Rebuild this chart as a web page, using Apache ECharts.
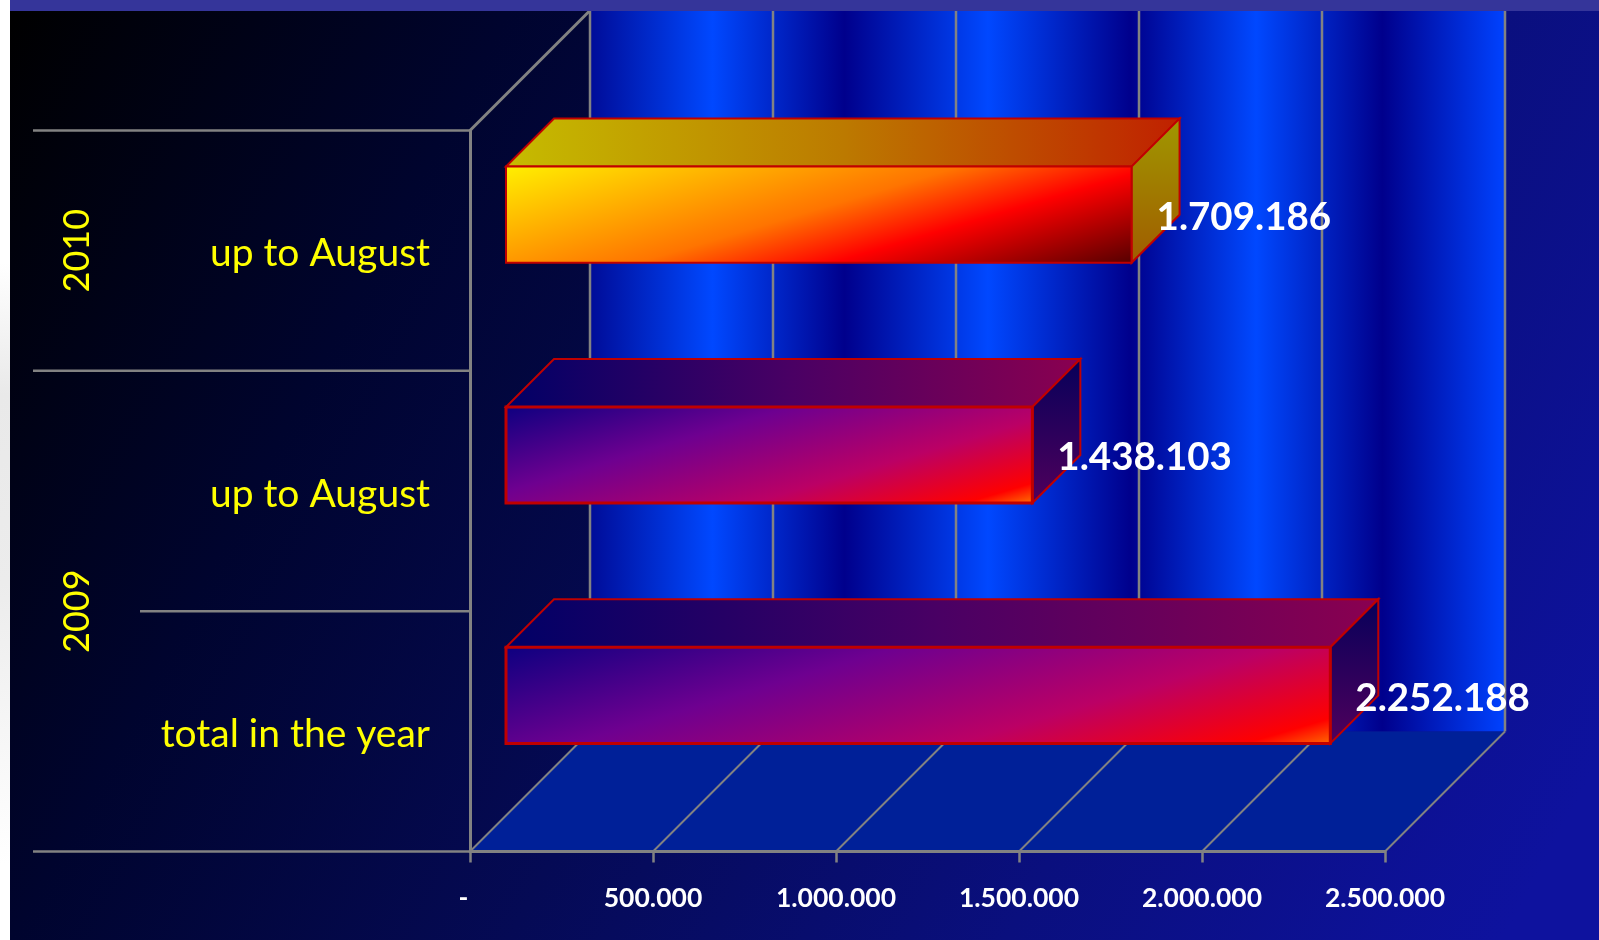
<!DOCTYPE html>
<html>
<head>
<meta charset="utf-8">
<title>Chart</title>
<style>
  html, body { margin: 0; padding: 0; background: linear-gradient(180deg, #ffffff 0%, #ffffff 28%, #e9e9e9 42%, #ececec 62%, #ffffff 92%); }
  #chart { width: 1599px; height: 940px; }
</style>
<script src="https://cdn.jsdelivr.net/npm/echarts@6/dist/echarts.min.js"></script>
</head>
<body>
<div id="chart"></div>
<script>
// chart data
var categories = ['up to August', 'up to August', 'total in the year']
var values = [1709186, 1438103, 2252188]
var valueLabels = ['1.709.186', '1.438.103', '2.252.188']
var groupLabels = ['2010', '2009']
var groupSizes = [1, 2] // how many categories each year spans
var ticks = [0, 500000, 1000000, 1500000, 2000000, 2500000]
var tickLabels = ['-  ', '500.000', '1.000.000', '1.500.000', '2.000.000', '2.500.000']

var LineGradient = echarts.graphic.LinearGradient
var GREY = '#828282'
var DEPTH = 120 // how far the back wall is pushed up and to the right
var BAR_SHIFT = 36
var BAR_DEPTH = 48
var FONT = 'Lato'

var wallStops = [
  { offset: 0, color: '#000c98' },
  { offset: 0.134, color: '#0048ff' },
  { offset: 0.278, color: '#00008c' },
  { offset: 0.435, color: '#0048ff' },
  { offset: 0.591, color: '#00008c' },
  { offset: 0.728, color: '#0048ff' },
  { offset: 0.866, color: '#00008c' },
  { offset: 1, color: '#0042ff' }
]
var fireFront = [
  { offset: 0, color: '#fff000' },
  { offset: 0.47, color: '#ff7400' },
  { offset: 0.67, color: '#ff0000' },
  { offset: 1, color: '#4a0000' }
]
var purpleFront = [
  { offset: 0, color: '#0c0080' },
  { offset: 0.33, color: '#6e0090' },
  { offset: 0.65, color: '#bb0065' },
  { offset: 0.89, color: '#ff0000' },
  { offset: 1, color: '#ffa000' }
]
var barStyles = [
  { front: fireFront, top: ['#c6bc00', '#bc7a00', '#c02000'], side: ['#a09800', '#a05c00'], border: 2 },
  { front: purpleFront, top: ['#000066', '#4a0064', '#8a0050'], side: ['#06005a', '#50005c'], border: 3 },
  { front: purpleFront, top: ['#000066', '#4a0064', '#8a0050'], side: ['#06005a', '#50005c'], border: 3 }
]

function stops(colors) {
  return colors.map(function(c, i) {
    return { offset: i / (colors.length - 1), color: c }
  })
}

function line(x1, y1, x2, y2, width) {
  return {
    type: 'line',
    shape: { x1: x1, y1: y1, x2: x2, y2: y2 },
    style: { stroke: GREY, lineWidth: width }
  }
}

// back wall, floor, their grid lines, the category dividers and year labels
function renderFrame(params, api) {
  var children = []
  var first = api.coord([ticks[0], 0])
  var bottom = api.coord([ticks[0], categories.length])
  var right = api.coord([ticks[ticks.length - 1], categories.length])

  children.push({
    type: 'rect',
    shape: { x: first[0] + DEPTH, y: first[1] - DEPTH, width: right[0] - first[0], height: right[1] - first[1] },
    style: { fill: new LineGradient(0, 0, 1, 0, wallStops) }
  })
  children.push({
    type: 'polygon',
    shape: { points: [bottom, right, [right[0] + DEPTH, right[1] - DEPTH], [bottom[0] + DEPTH, bottom[1] - DEPTH]] },
    style: { fill: '#002098' }
  })
  ticks.forEach(function(t) {
    var p = api.coord([t, categories.length])
    children.push(line(p[0], p[1], p[0] + DEPTH, p[1] - DEPTH, 2))
    children.push(line(p[0] + DEPTH, p[1] - DEPTH, p[0] + DEPTH, first[1] - DEPTH, 2.5))
  })
  children.push(line(first[0], first[1], first[0] + DEPTH, first[1] - DEPTH, 3))

  // dividers run across the year column, except inside a year that spans more rows
  var pos = 0
  var addDivider = function(band, long) {
    var p = api.coord([0, band])
    children.push(line(long ? 33 : 140, p[1], p[0], p[1], 2.5))
  }
  addDivider(0, true)
  groupLabels.forEach(function(label, i) {
    var mid = api.coord([0, pos + groupSizes[i] / 2])
    children.push({
      type: 'text',
      x: 77,
      y: mid[1],
      rotation: Math.PI / 2,
      style: { text: label, fill: '#ffff00', fontFamily: FONT, fontSize: 36, align: 'center', verticalAlign: 'middle' }
    })
    for (var k = 1; k < groupSizes[i]; k++) addDivider(pos + k, false)
    pos += groupSizes[i]
    addDivider(pos, true)
  })
  return { type: 'group', children: children }
}

function renderBar(params, api) {
  var i = api.value(1)
  var end = api.coord([api.value(0), i])
  var origin = api.coord([0, i])
  var h = api.size([0, 1])[1] * 0.4
  var x0 = origin[0] + BAR_SHIFT
  var x1 = end[0] + BAR_SHIFT
  var y0 = end[1] - BAR_SHIFT - h / 2
  var y1 = y0 + h
  var w = x1 - x0
  var d = BAR_DEPTH
  var s = barStyles[i]
  var border = '#c00000'

  // same slant on every bar, iso-colour lines run shallow across the front face
  var nx = 0.29
  var ny = 0.957
  var len = w * nx + h * ny
  var front = new LineGradient(0, 0, len * nx / w, len * ny / h, s.front)

  return {
    type: 'group',
    children: [
      {
        type: 'polygon',
        shape: { points: [[x0, y0], [x1, y0], [x1 + d, y0 - d], [x0 + d, y0 - d]] },
        style: { fill: new LineGradient(0, 0, 1, 0.1, stops(s.top)), stroke: border, lineWidth: 2 }
      },
      {
        type: 'polygon',
        shape: { points: [[x1, y0], [x1 + d, y0 - d], [x1 + d, y1 - d], [x1, y1]] },
        style: { fill: new LineGradient(0, 0, 0, 1, stops(s.side)), stroke: border, lineWidth: 2 }
      },
      {
        type: 'rect',
        shape: { x: x0, y: y0, width: w, height: h },
        style: { fill: front, stroke: border, lineWidth: s.border }
      },
      {
        type: 'text',
        style: {
          text: valueLabels[i],
          x: x1 + 25,
          y: (y0 + y1) / 2 + 3,
          fill: '#ffffff',
          fontFamily: FONT,
          fontWeight: 'bold',
          fontSize: 38.5,
          align: 'left',
          verticalAlign: 'middle'
        }
      }
    ]
  }
}

var chart = echarts.init(document.getElementById('chart'), null, { renderer: 'canvas' })
chart.setOption({
  animation: false,
  graphic: [
    {
      type: 'rect',
      z: -10,
      shape: { x: 10, y: 11, width: 1589, height: 929 },
      style: {
        fill: new LineGradient(0, 0, 0.974, 0.891, [
          { offset: 0, color: '#000000' },
          { offset: 0.25, color: '#00042e' },
          { offset: 0.5, color: '#050a55' },
          { offset: 0.75, color: '#0a0f7e' },
          { offset: 1, color: '#0e129e' }
        ])
      }
    },
    {
      type: 'rect',
      z: 10,
      shape: { x: 10, y: 0, width: 1589, height: 11 },
      style: { fill: '#35359a' }
    }
  ],
  grid: { left: 470, top: 130.5, width: 915, height: 721, containLabel: false },
  xAxis: {
    type: 'value',
    min: 0,
    max: 2500000,
    interval: 500000,
    splitLine: { show: false },
    axisLine: { show: true, onZero: false, lineStyle: { color: GREY, width: 3 } },
    axisTick: { show: true, length: 11, lineStyle: { color: GREY, width: 2.5 } },
    axisLabel: {
      margin: 33,
      color: '#ffffff',
      fontFamily: FONT,
      fontWeight: 'bold',
      fontSize: 26.5,
      formatter: function(v) { return tickLabels[ticks.indexOf(v)] }
    }
  },
  yAxis: [
    {
      type: 'category',
      inverse: true,
      data: categories,
      axisLine: { show: true, lineStyle: { color: GREY, width: 3 } },
      axisTick: { show: false },
      axisLabel: {
        margin: 40,
        formatter: function(v) { return '{a|' + v + '}' },
        rich: { a: { color: '#ffff00', fontFamily: FONT, fontSize: 39, padding: [6, 0, 0, 0] } }
      }
    },
    // plain band scale for the walls, dividers and year labels
    { type: 'value', inverse: true, min: 0, max: categories.length, show: false, splitLine: { show: false } }
  ],
  series: [
    {
      type: 'custom',
      name: 'frame',
      z: -1,
      silent: true,
      yAxisIndex: 1,
      renderItem: renderFrame,
      data: [[0, 0]],
      encode: { x: 0, y: 1 }
    },
    {
      type: 'custom',
      name: 'values',
      z: 3,
      silent: true,
      yAxisIndex: 0,
      renderItem: renderBar,
      data: values.map(function(v, i) { return [v, i] }),
      encode: { x: 0, y: 1 }
    }
  ]
})
</script>
</body>
</html>
